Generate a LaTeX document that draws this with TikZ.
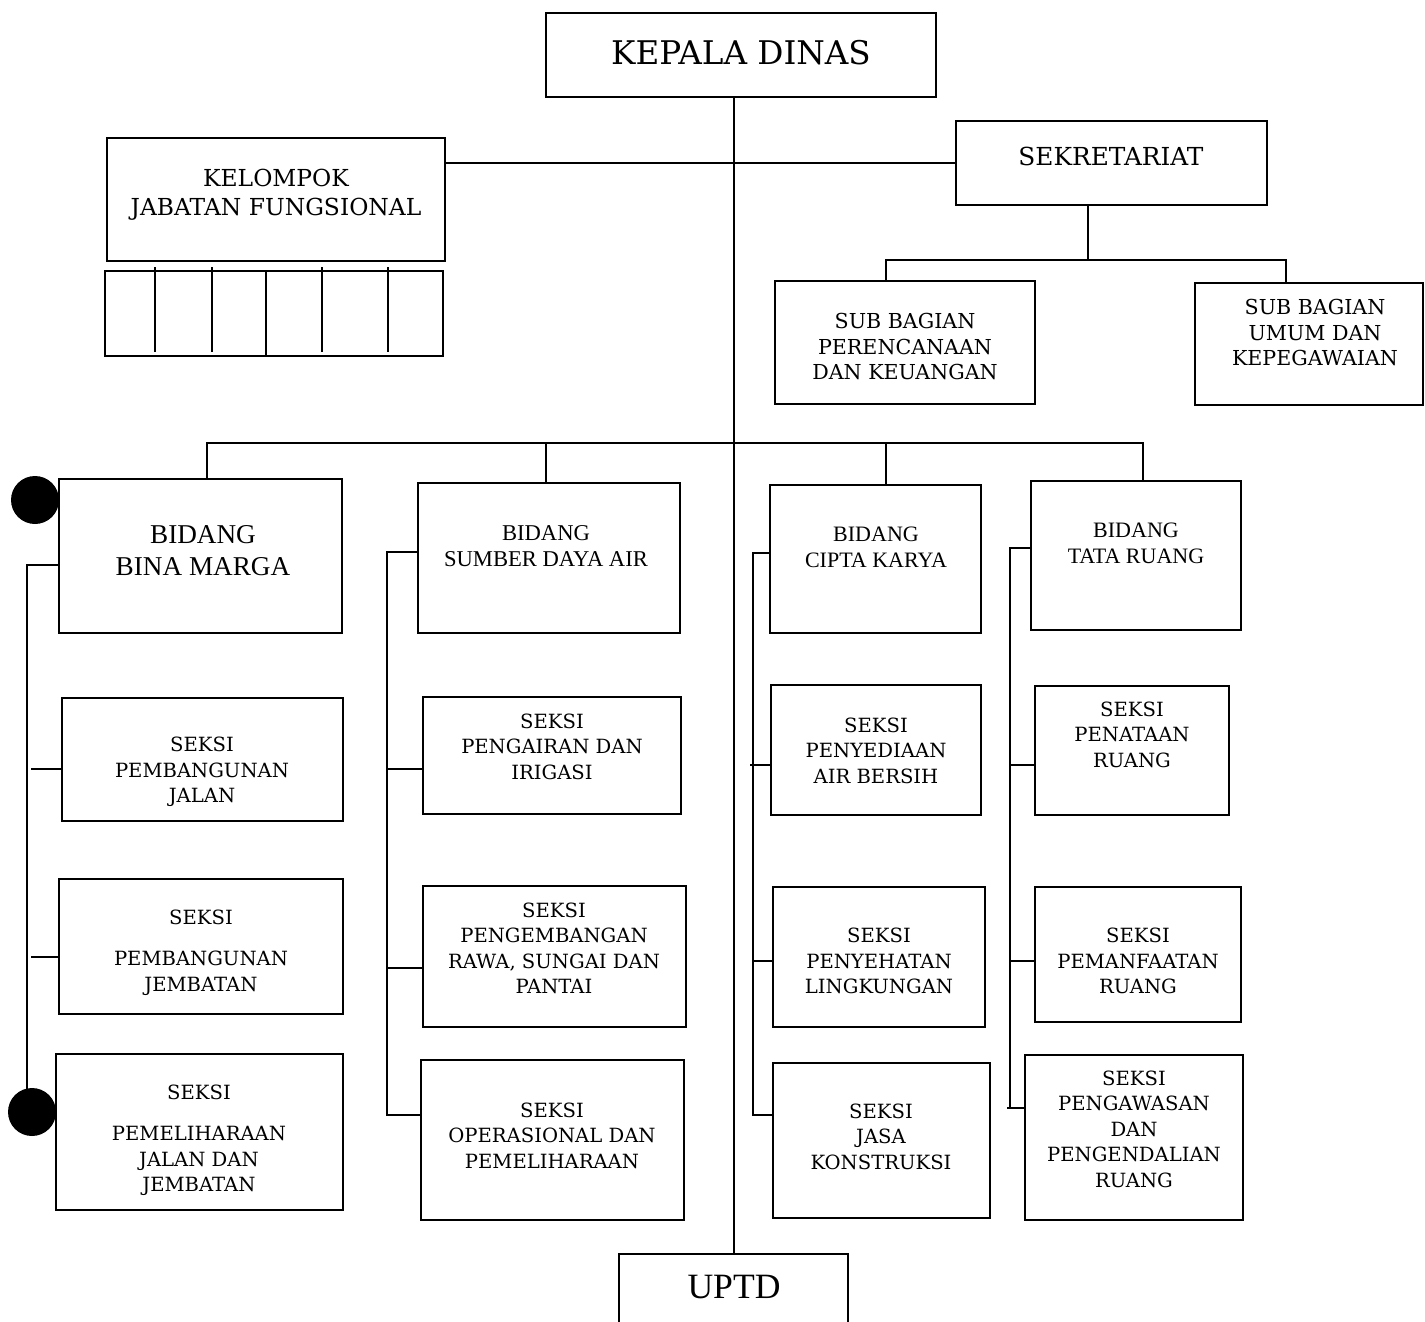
\documentclass[tikz,border=0pt]{standalone}
\usepackage{fontspec}
\setmainfont{DejaVu Serif}
\newfontfamily\timesf{Liberation Serif}
\usetikzlibrary{fit}
\newcommand\obx[5]{\node[obox, fit={(#2,#3) (#4,#5)}] (#1) {};}
\begin{document}
\begin{tikzpicture}[x=0.5pt,y=-0.5pt,line width=1pt,
  obox/.style={draw, inner sep=0pt, line width=1pt},
  lbl/.style={align=center, inner sep=0pt},
  sk/.style={lbl, font=\fontsize{9.8}{12.75}\selectfont},
  sb/.style={lbl, font=\fontsize{10.3}{12.75}\selectfont},
  bt/.style={lbl, font=\timesf\fontsize{11}{13}\selectfont},
  dot/.style={circle, fill=black, draw=none, minimum size=24pt, inner sep=0pt}]
\clip (0,0) rectangle (1425,1322);
\fill[white] (0,0) rectangle (1425,1322);
% boxes
\obx{kepala}{546}{13}{936}{97}
\obx{kelompok}{107}{138}{445}{261}
\obx{grid}{105}{271}{443}{356}
\obx{sekr}{956}{121}{1267}{205}
\obx{sbp}{775}{281}{1035}{404}
\obx{sbu}{1195}{283}{1423}{405}
\obx{bm}{59}{479}{342}{633}
\obx{sda}{418}{483}{680}{633}
\obx{ck}{770}{485}{981}{633}
\obx{tr}{1031}{481}{1241}{630}
\obx{pj}{62}{698}{343}{821}
\obx{pjb}{59}{879}{343}{1014}
\obx{pemjj}{56}{1054}{343}{1210}
\obx{pi}{423}{697}{681}{814}
\obx{prsp}{423}{886}{686}{1027}
\obx{op}{421}{1060}{684}{1220}
\obx{pab}{771}{685}{981}{815}
\obx{pl}{773}{887}{985}{1027}
\obx{jk}{773}{1063}{990}{1218}
\obx{pr}{1035}{686}{1229}{815}
\obx{pemr}{1035}{887}{1241}{1022}
\obx{ppr}{1025}{1055}{1243}{1220}
\obx{uptd}{619}{1254}{848}{1340}
% grid dividers
\foreach \gx in {155,212,322,388} \draw (\gx,267) -- (\gx,352);
\draw (266,271) -- (266,356);
% texts
\node[lbl, font=\fontsize{16.3}{20}\selectfont] (kepala-t) at (741,53) {KEPALA DINAS};
\node[lbl, font=\fontsize{11.7}{14.5}\selectfont] (kelompok-t) at (276,194.5) {KELOMPOK\\JABATAN FUNGSIONAL};
\node[lbl, font=\fontsize{12.4}{15}\selectfont] (sekr-t) at (1111,156) {SEKRETARIAT};
\node[sb] (sbp-t) at (905,346.5) {SUB BAGIAN\\PERENCANAAN\\DAN KEUANGAN};
\node[sb] (sbu-t) at (1315,332.5) {SUB BAGIAN\\UMUM DAN\\KEPEGAWAIAN};
\node[lbl, font=\timesf\fontsize{13.6}{16}\selectfont] (bm-t) at (203,551) {BIDANG\\BINA MARGA};
\node[lbl, font=\timesf\fontsize{11.3}{13}\selectfont] (sda-t) at (546,546) {BIDANG\\SUMBER DAYA AIR};
\node[bt] (ck-t) at (876,547) {BIDANG\\CIPTA KARYA};
\node[bt] (tr-t) at (1136,543) {BIDANG\\TATA RUANG};
\node[sk] (pj-t) at (202,772) {SEKSI\\PEMBANGUNAN\\JALAN};
\node[sk] (pjb-t) at (201,952.5) {SEKSI\\[8pt]PEMBANGUNAN\\JEMBATAN};
\node[sk] (pemjj-t) at (199,1140.5) {SEKSI\\[8pt]PEMELIHARAAN\\JALAN DAN\\JEMBATAN};
\node[sk] (pi-t) at (552,746.5) {SEKSI\\PENGAIRAN DAN\\IRIGASI};
\node[sk] (prsp-t) at (554,948.5) {SEKSI\\PENGEMBANGAN\\RAWA, SUNGAI DAN\\PANTAI};
\node[sk] (op-t) at (552,1135.5) {SEKSI\\OPERASIONAL DAN\\PEMELIHARAAN};
\node[sk] (pab-t) at (876,750.5) {SEKSI\\PENYEDIAAN\\AIR BERSIH};
\node[sk] (pl-t) at (879,961) {SEKSI\\PENYEHATAN\\LINGKUNGAN};
\node[sk] (jk-t) at (881,1136.5) {SEKSI\\JASA\\KONSTRUKSI};
\node[sk] (pr-t) at (1132,734.5) {SEKSI\\PENATAAN\\RUANG};
\node[sk] (pemr-t) at (1138,961) {SEKSI\\PEMANFAATAN\\RUANG};
\node[sk] (ppr-t) at (1134,1129) {SEKSI\\PENGAWASAN\\DAN\\PENGENDALIAN\\RUANG};
\node[lbl, font=\timesf\fontsize{17.8}{20}\selectfont] (uptd-t) at (734,1287) {UPTD};
% main connectors
\draw (kepala.south -| uptd.north) -- (uptd.north);
\draw (kelompok.east |- sekr.west) -- (sekr.west);
\coordinate (sekj) at (1088,260);
\coordinate (sbl) at (886,260);
\coordinate (sbr) at (1286,260);
\draw (sekr.south -| sekj) -- (sekj);
\draw (sbl |- sbp.north) -- (sbl) -- (sbr) -- (sbr |- sbu.north);
\coordinate (b1) at (207,443);
\coordinate (b2) at (546,443);
\coordinate (b3) at (886,443);
\coordinate (b4) at (1143,443);
\draw (b1 |- bm.north) -- (b1) -- (b4) -- (b4 |- tr.north);
\draw (b2) -- (b2 |- sda.north);
\draw (b3) -- (b3 |- ck.north);
% column 1
\coordinate (c1t) at (27,565);
\coordinate (c1b) at (27,1113);
\draw (bm.west |- c1t) -- (c1t) -- (c1b) -- (pemjj.west |- c1b);
\draw (31,769) -- (pj.west |- 0,769);
\draw (31,957) -- (pjb.west |- 0,957);
% column 2
\coordinate (c2t) at (387,552);
\coordinate (c2b) at (387,1115);
\draw (sda.west |- c2t) -- (c2t) -- (c2b) -- (op.west |- c2b);
\draw (387,769) -- (pi.west |- 0,769);
\draw (387,968) -- (prsp.west |- 0,968);
% column 3
\coordinate (c3t) at (753,553);
\coordinate (c3b) at (753,1115);
\draw (ck.west |- c3t) -- (c3t) -- (c3b) -- (jk.west |- c3b);
\draw (750,765) -- (pab.west |- 0,765);
\draw (753,961) -- (pl.west |- 0,961);
% column 4
\coordinate (c4t) at (1010,548);
\coordinate (c4b) at (1010,1108);
\draw (tr.west |- c4t) -- (c4t) -- (c4b);
\draw (1007,1108) -- (ppr.west |- c4b);
\draw (1010,765) -- (pr.west |- 0,765);
\draw (1010,961) -- (pemr.west |- 0,961);
% dots
\node[dot] (dot1) at (35,500) {};
\node[dot] (dot2) at (32,1112) {};
\end{tikzpicture}
\end{document}
